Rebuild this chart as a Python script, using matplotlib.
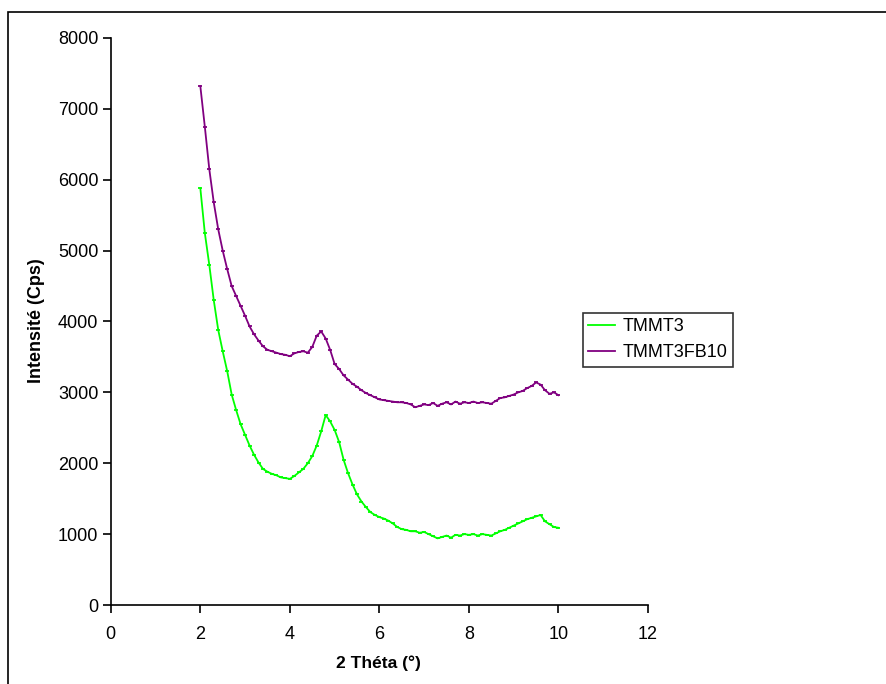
import numpy as np
import matplotlib
matplotlib.use("Agg")
import matplotlib.pyplot as plt
from matplotlib.patches import Rectangle

plt.rcParams["font.family"] = ["Liberation Sans", "DejaVu Sans"]

# ── data (2θ step 0.1°) ───────────────────────────────────────────────────
two_theta = np.round(np.arange(2.0, 10.01, 0.1), 2)

tmmt3 = [
    5880, 5250, 4800, 4300, 3880, 3580, 3300, 2970, 2750, 2550,
    2400, 2250, 2120, 2010, 1920, 1880, 1850, 1830, 1800, 1790,
    1780, 1820, 1870, 1920, 2000, 2100, 2250, 2450, 2680, 2590,
    2470, 2300, 2050, 1860, 1700, 1560, 1460, 1380, 1310, 1270,
    1240, 1220, 1190, 1150, 1100, 1070, 1060, 1040, 1040, 1020,
    1030, 1000, 970, 940, 960, 980, 950, 990, 980, 1000,
    990, 1000, 980, 1000, 990, 980, 1010, 1040, 1060, 1090,
    1120, 1150, 1180, 1210, 1230, 1250, 1270, 1180, 1140, 1100,
    1090,
]

tmmt3fb10 = [
    7320, 6750, 6150, 5680, 5300, 5000, 4740, 4500, 4360, 4220,
    4080, 3930, 3820, 3730, 3650, 3600, 3580, 3560, 3540, 3530,
    3510, 3550, 3570, 3580, 3560, 3640, 3800, 3860, 3760, 3600,
    3400, 3330, 3240, 3180, 3120, 3080, 3030, 2990, 2960, 2930,
    2900, 2890, 2880, 2870, 2860, 2860, 2850, 2830, 2790, 2810,
    2830, 2820, 2850, 2810, 2840, 2860, 2830, 2870, 2840, 2860,
    2850, 2870, 2850, 2860, 2850, 2840, 2880, 2920, 2930, 2950,
    2970, 3000, 3020, 3060, 3090, 3140, 3110, 3030, 2980, 3000,
    2960,
]

x_ticks = [0, 2, 4, 6, 8, 10, 12]
y_ticks = [0, 1000, 2000, 3000, 4000, 5000, 6000, 7000, 8000]

GREEN = "#00FF00"
PURPLE = "#800080"

fig = plt.figure(figsize=(8.87, 6.84), dpi=100)
fig.patch.set_facecolor("white")

# outer chart frame (only left + top edges fall inside the image)
fig.patches.append(Rectangle((8 / 887, -0.1), 1.2, 1.1 - 12 / 684,
                             transform=fig.transFigure, fill=False,
                             edgecolor="black", linewidth=1.2))

ax = fig.add_axes([110.8 / 887, 1 - 605 / 684, (648 - 110.8) / 887, (605 - 38) / 684])

ax.plot(two_theta, tmmt3, color=GREEN, linewidth=1.3,
        marker="_", markersize=3, markeredgewidth=1.3, label="TMMT3")
ax.plot(two_theta, tmmt3fb10, color=PURPLE, linewidth=1.3,
        marker="_", markersize=3, markeredgewidth=1.3, label="TMMT3FB10")

ax.set_xlim(0, 12)
ax.set_ylim(0, 8000)
ax.set_xticks(x_ticks)
ax.set_yticks(y_ticks)
ax.spines[["top", "right"]].set_visible(False)
ax.spines["left"].set_linewidth(1.2)
ax.spines["bottom"].set_linewidth(1.2)
ax.tick_params(direction="out", length=6, width=1.2, labelsize=13)
ax.tick_params(axis="y", pad=3)
ax.tick_params(axis="x", pad=9)

ax.set_xlabel("2 Théta (°)", fontsize=12.5, fontweight="bold")
ax.set_ylabel("Intensité (Cps)", fontsize=13, fontweight="bold")
ax.xaxis.set_label_coords((378 - 110.8) / 537.2, (605 - 663) / 567, )
ax.yaxis.set_label_coords((37 - 110.8) / 537.2, (605 - 321) / 567)
ax.xaxis.label.set_va("center")
ax.yaxis.label.set_va("center")

leg = ax.legend(loc="upper left", bbox_to_anchor=(583 / 887, 1 - 313 / 684),
                bbox_transform=fig.transFigure, fontsize=13, frameon=True,
                fancybox=False, handlelength=1.5, handletextpad=0.4,
                borderpad=0.3, labelspacing=0.5, borderaxespad=0)
leg.get_frame().set_edgecolor("black")
leg.get_frame().set_linewidth(1.2)
for h in leg.get_lines():
    h.set_marker("")

fig.savefig("out.png", dpi=100, facecolor="white")
